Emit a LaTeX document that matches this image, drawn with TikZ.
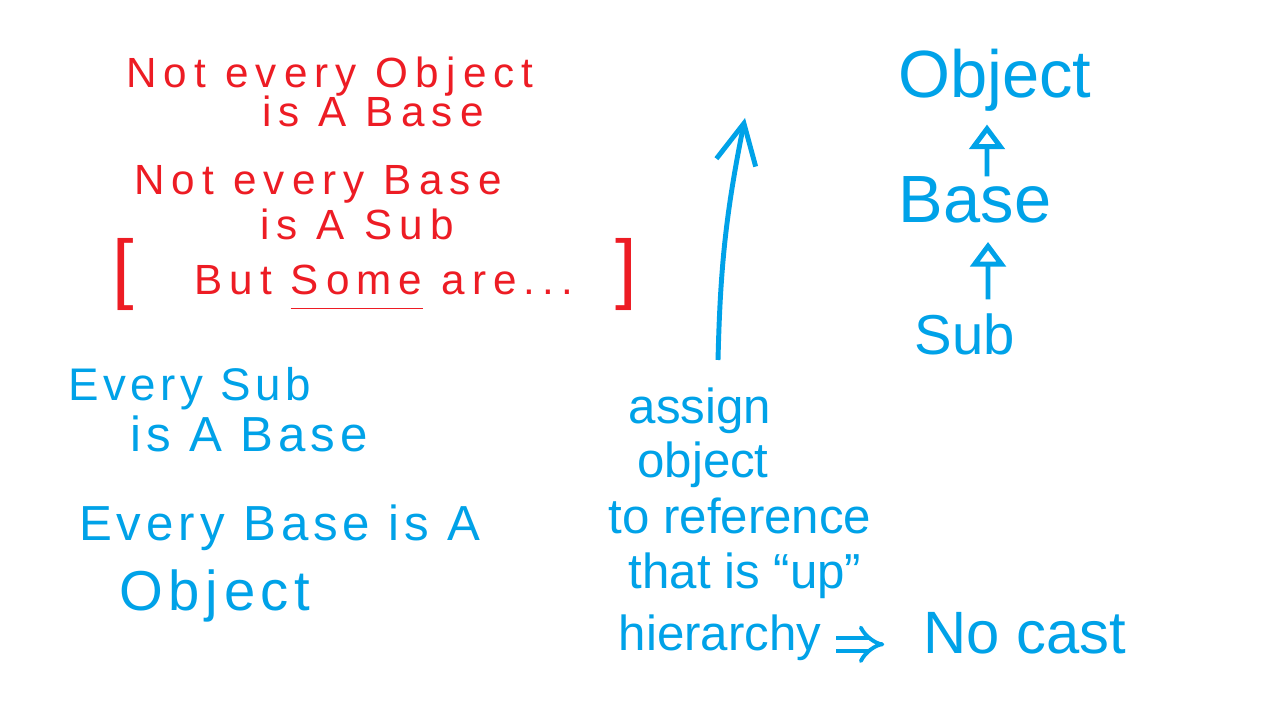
\documentclass[tikz,border=0pt]{standalone}
\usepackage{fontspec}
\setmainfont{Liberation Sans}
\newfontfamily\redpen[LetterSpace=17]{Liberation Sans}
\newfontfamily\bluepen[LetterSpace=10]{Liberation Sans}
\usetikzlibrary{arrows.meta, positioning}
\definecolor{penred}{HTML}{ED1C24}
\definecolor{penblue}{HTML}{00A2E8}

\begin{document}
\begin{tikzpicture}[
    x=0.01cm, y=-0.01cm,
    redtext/.style={text=penred, anchor=base, inner sep=0pt, font=\redpen\fontsize{12}{14}\selectfont},
    bluetext/.style={text=penblue, anchor=base, inner sep=0pt, font=\bluepen\fontsize{14}{16}\selectfont},
    notetext/.style={text=penblue, anchor=base, inner sep=0pt, font=\fontsize{14}{16}\selectfont},
    classname/.style={text=penblue, anchor=base, inner sep=0pt, font=\fontsize{19}{21}\selectfont},
    inherit/.style={-{Triangle[open, length=7pt, width=10pt]}, penblue, line width=1.4pt},
    uparrow/.style={-{Straight Barb[length=4mm, width=4mm]}, penblue, line width=1.4pt},
    implies/.style={-{Implies}, penblue, double, double distance=2.5pt, line width=1.1pt}
]
\fill[white] (0,0) rectangle (1283,722);
\useasboundingbox (0,0) rectangle (1283,722);

% red notes
\node (notobj) [redtext] at (330,88) {Not every Object};
\node (isbase) [redtext] at (373,127) {is A Base};
\node (notbase) [redtext] at (318,195) {Not every Base};
\node (issub) [redtext] at (357,240) {is A Sub};
\node (butsome) [redtext] at (375,295) {{\fontsize{22}{22}\selectfont[}\hspace{17pt}But \underline{Some\rule[-2.5pt]{0pt}{0pt}} are...\hspace{12pt}{\fontsize{22}{22}\selectfont]}};

% blue notes
\node (everysub) [bluetext, font=\bluepen\fontsize{13}{15}\selectfont] at (190,400) {Every Sub};
\node (subisbase) [bluetext] at (249,452) {is A Base};
\node (everybase) [bluetext] at (280,540) {Every Base is A};
\node (baseisobj) [bluetext, font=\bluepen\fontsize{16}{18}\selectfont] at (215,610) {Object};

% upcast arrow and note
\coordinate (upfoot) at (718,360);
\coordinate (uptip) at (745,118);
\draw [uparrow] (upfoot) to[bend left=5] (uptip);

\node (assign) [notetext] at (700,423) {assign};
\node (objline) [notetext] at (703,477) {object};
\node (toref) [notetext] at (740,533) {to reference};
\node (thatup) [notetext] at (745,588) {that is ``up''};
\node (hier) [notetext] at (720,650) {hierarchy};
\node (nocast) [bluetext, font=\fontsize{17}{19}\selectfont] at (1025,653) {No cast};
\draw [implies, shorten <=4pt, shorten >=11pt] ([yshift=-2pt]hier.east) -- ([yshift=-2pt]hier.east -| nocast.west);

% class hierarchy
\node (object) [classname] at (995,98) {Object};
\node (base) [classname] at (975,223) {Base};
\node (sub) [classname, font=\fontsize{16}{18}\selectfont] at (965,355) {Sub};
\draw [inherit, shorten >=3.4pt] ([xshift=0.12cm]base.north) -- ([xshift=-0.08cm]object.south);
\draw [inherit, shorten <=4pt, shorten >=5pt] ([xshift=0.23cm]sub.north) -- ([xshift=0.13cm]base.south);

\end{tikzpicture}
\end{document}
